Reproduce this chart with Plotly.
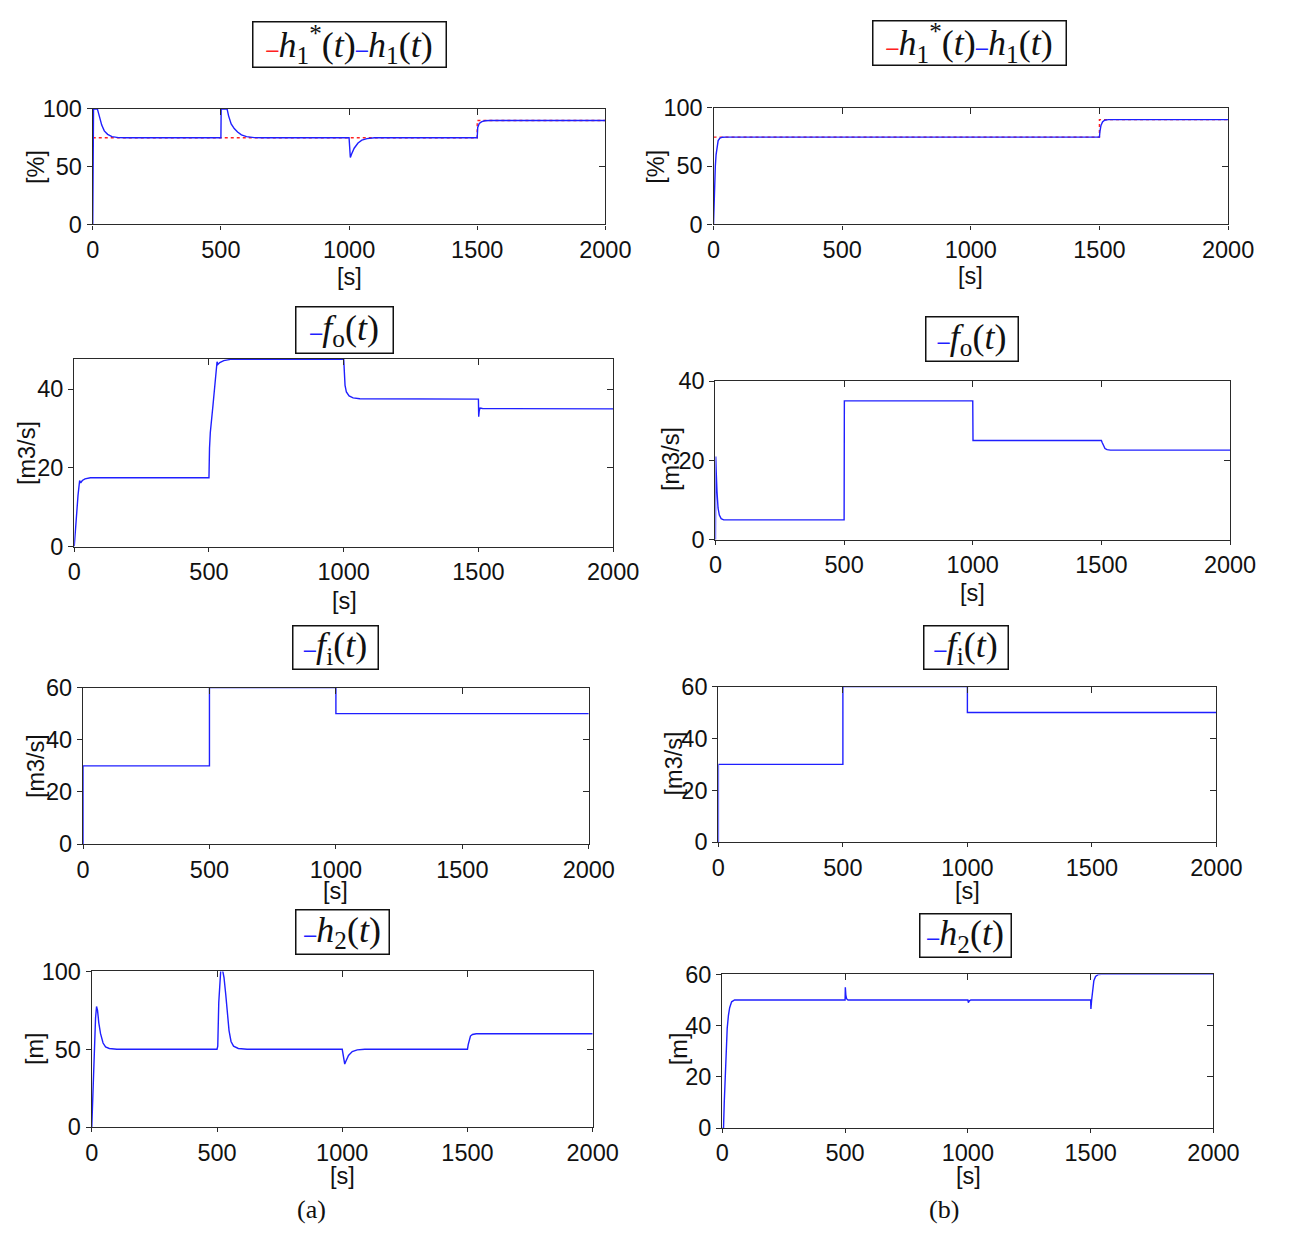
import plotly.graph_objects as go

W, H = 1295, 1238

# ------------------------------------------------------------------ data
x_ticks = [0, 500, 1000, 1500, 2000]

# reference level h1*(t) [%] (same for (a) and (b))
t_h1ref = [0, 1500, 1500, 2000]
h1ref = [75, 75, 90, 90]

# (a) h1(t) [%]
t_h1_a = [0, 3, 18, 22, 28, 35, 45, 58, 75, 100, 130, 500, 501, 524, 530, 540, 552, 565, 580, 600, 630, 660,
          1000, 1002, 1005, 1010, 1020, 1035, 1050, 1070, 1100, 1500, 1502, 1508, 1518, 1530, 1550, 2000]
h1_a = [0, 100, 100, 96, 91, 86, 81, 78, 76, 75.2, 75, 75, 100, 100, 94, 87, 83, 80, 77.5, 76, 75.2, 75,
        75, 66, 58, 61, 66, 70.5, 73, 74.3, 75, 75, 84, 87.5, 89, 89.8, 90, 90]

# (b) h1(t) [%]
t_h1_b = [0, 2, 4, 7, 10, 14, 18, 25, 35, 50, 1500, 1502, 1506, 1512, 1520, 1535, 2000]
h1_b = [0, 20, 38, 50, 60, 68, 72, 74.2, 74.9, 75, 75, 80, 85, 88, 89.5, 90, 90]

# (a) fo(t) [m3/s]
t_fo_a = [0, 3, 8, 14, 20, 24, 30, 40, 60, 500, 502, 505, 515, 525, 530, 533, 540, 555, 580, 1000,
          1002, 1005, 1010, 1020, 1035, 1060, 1500, 1501, 1503, 1506, 1515, 2000]
fo_a = [0, 3, 8, 13, 16.8, 16.2, 16.8, 17.2, 17.5, 17.5, 25, 29, 36, 43, 47, 46.3, 46.8, 47.3, 47.6, 47.7,
        44, 41, 39.3, 38.3, 37.8, 37.6, 37.5, 33, 34.5, 35.2, 35.1, 35]

# (b) fo(t) [m3/s]
t_fo_b = [0, 1, 3, 6, 10, 15, 22, 32, 500, 501, 1000, 1001, 1500, 1503, 1508, 1514, 1522, 1535, 2000]
fo_b = [0, 21, 17, 12, 8, 6.2, 5.3, 5, 5, 35, 35, 25, 25, 24.5, 23.6, 23, 22.7, 22.6, 22.6]

# fi(t) [m3/s] (same input for (a) and (b))
t_fi = [0, 0, 500, 500, 1000, 1000, 2000]
fi = [0, 30, 30, 60, 60, 50, 50]

# (a) h2(t) [m]
t_h2_a = [0, 5, 10, 15, 19, 23, 28, 35, 45, 55, 70, 100, 500, 503, 507, 511, 515, 522, 528, 535, 541, 548,
          556, 566, 585, 620, 1000, 1004, 1010, 1015, 1025, 1040, 1060, 1090, 1500, 1503, 1507, 1512, 1520,
          1535, 2000]
h2_a = [0, 25, 50, 70, 77.5, 75, 67, 60, 54, 51.5, 50.5, 50, 50, 52, 80, 97, 101, 101, 96, 85, 72, 62,
        55, 52, 50.5, 50, 50, 45, 40.5, 42.5, 46, 48.5, 49.6, 50, 50, 53, 56.5, 58.5, 59.5, 60, 60]

# (b) h2(t) [m]
t_h2_b = [0, 5, 8, 12, 16, 20, 25, 30, 38, 50, 500, 501, 503, 506, 512, 1000, 1002, 1006, 1012, 1500,
          1501, 1504, 1508, 1513, 1520, 1530, 1545, 2000]
h2_b = [0, 0, 10, 22, 32, 39, 44, 47, 49.3, 50, 50, 55, 52, 50.5, 50, 50, 49, 49.7, 50, 50,
        46.5, 50, 54.5, 57.5, 59.2, 59.9, 60, 60]

# ------------------------------------------------------------------ layout helpers
BLUE = "#1f1fff"
RED = "#ff2020"
AX = "#2a2a2a"
TICKFONT = dict(family="Liberation Sans, Arial", size=23.5, color="#111")
TITLEFONT = dict(family="Liberation Sans, Arial", size=23.5, color="#111")
SERIF = "Liberation Serif, Times New Roman, serif"

def px(x):
    return x / W

def py(y):
    return 1 - y / H

SR = "<span style='color:%s;font-family:Liberation Sans;font-size:22px'>–</span>"

H1LEG = (SR % RED) + "<i>h</i><sub>1</sub><sup>*</sup>(<i>t</i>)" + (SR % BLUE) + "<i>h</i><sub>1</sub>(<i>t</i>)"

panels = [
    dict(box=(88, 614, 98, 216), yr=[0, 100], yt=[0, 50, 100],
         series=[(t_h1ref, h1ref, RED, "dot"), (t_h1_a, h1_a, BLUE, "solid")],
         leg=H1LEG, legbox=(253, 449, 8, 56), ytitle="[%]", ytpos=(29, 157), xtpos=(351, 270)),
    dict(box=(725, 1253, 97, 216), yr=[0, 100], yt=[0, 50, 100],
         series=[(t_h1ref, h1ref, RED, "dot"), (t_h1_b, h1_b, BLUE, "solid")],
         leg=H1LEG, legbox=(890, 1086, 7, 54), ytitle="[%]", ytpos=(666, 157), xtpos=(989, 269)),
    dict(box=(69, 622, 353, 545), yr=[0, 47.8], yt=[0, 20, 40],
         series=[(t_fo_a, fo_a, BLUE, "solid")],
         leg=(SR % BLUE) + "<i>f</i><sub>o</sub>(<i>t</i>)",
         legbox=(296, 396, 299, 348), ytitle="[m3/s]", ytpos=(20, 449), xtpos=(346, 601)),
    dict(box=(727, 1255, 376, 538), yr=[0, 40], yt=[0, 20, 40],
         series=[(t_fo_b, fo_b, BLUE, "solid")],
         leg=(SR % BLUE) + "<i>f</i><sub>o</sub>(<i>t</i>)",
         legbox=(943, 1038, 310, 357), ytitle="[m3/s]", ytpos=(682, 456), xtpos=(991, 592)),
    dict(box=(78, 597, 689, 849), yr=[0, 60], yt=[0, 20, 40, 60],
         series=[(t_fi, fi, BLUE, "solid")],
         leg=(SR % BLUE) + "<i>f</i><sub>i</sub>(<i>t</i>)",
         legbox=(293, 381, 625, 671), ytitle="[m3/s]", ytpos=(30, 769), xtpos=(337, 897)),
    dict(box=(730, 1241, 688, 847), yr=[0, 60], yt=[0, 20, 40, 60],
         series=[(t_fi, fi, BLUE, "solid")],
         leg=(SR % BLUE) + "<i>f</i><sub>i</sub>(<i>t</i>)",
         legbox=(941, 1028, 625, 671), ytitle="[m3/s]", ytpos=(684, 767), xtpos=(986, 897)),
    dict(box=(87, 601, 979, 1138), yr=[0, 100], yt=[0, 50, 100],
         series=[(t_h2_a, h2_a, BLUE, "solid")],
         leg=(SR % BLUE) + "<i>h</i><sub>2</sub>(<i>t</i>)",
         legbox=(296, 392, 915, 962), ytitle="[m]", ytpos=(29, 1058), xtpos=(344, 1188)),
    dict(box=(734, 1238, 982, 1139), yr=[0, 60], yt=[0, 20, 40, 60],
         series=[(t_h2_b, h2_b, BLUE, "solid")],
         leg=(SR % BLUE) + "<i>h</i><sub>2</sub>(<i>t</i>)",
         legbox=(937, 1031, 919, 965), ytitle="[m]", ytpos=(689, 1058), xtpos=(987, 1188)),
]

fig = go.Figure()
layout = dict(width=W, height=H, margin=dict(l=0, r=0, t=0, b=0, pad=0),
              paper_bgcolor="white", plot_bgcolor="white", showlegend=False)
annotations = []
n = len(panels)

for i, p in enumerate(panels):
    k = i + 1
    ko = k + n  # overlay axes (top / right mirrored inside ticks)
    l, r, t, b = p["box"]
    xd = [px(l), px(r)]
    yd = [py(b), py(t)]
    xs = "x" if k == 1 else "x%d" % k
    ys = "y" if k == 1 else "y%d" % k
    for (tt, vv, col, dash) in p["series"]:
        fig.add_trace(go.Scatter(x=tt, y=vv, mode="lines", xaxis=xs, yaxis=ys,
                                 line=dict(color=col, width=1.4, dash=dash),
                                 hoverinfo="skip", cliponaxis=True))
    fig.add_trace(go.Scatter(x=[0], y=[p["yr"][0]], mode="markers", marker=dict(opacity=0),
                             xaxis="x%d" % ko, yaxis="y%d" % ko, hoverinfo="skip"))
    layout["xaxis%d" % k] = dict(domain=xd, anchor=ys, range=[0, 2000], tickvals=x_ticks,
                                 ticks="outside", ticklen=4, tickcolor=AX, showline=True,
                                 linecolor=AX, linewidth=1.4, mirror=True, showgrid=False,
                                 zeroline=False, tickfont=TICKFONT, fixedrange=True)
    layout["yaxis%d" % k] = dict(domain=yd, anchor=xs, range=p["yr"], tickvals=p["yt"],
                                 ticks="outside", ticklen=5, tickcolor=AX, showline=True,
                                 linecolor=AX, linewidth=1.4, mirror=True, showgrid=False,
                                 zeroline=False, tickfont=TICKFONT, fixedrange=True)
    layout["xaxis%d" % ko] = dict(overlaying=xs, anchor="y%d" % ko, side="top", range=[0, 2000],
                                  tickvals=x_ticks, ticks="inside", ticklen=6, tickcolor=AX,
                                  showticklabels=False, showgrid=False, zeroline=False,
                                  showline=False, fixedrange=True)
    layout["yaxis%d" % ko] = dict(overlaying=ys, anchor="x%d" % ko, side="right", range=p["yr"],
                                  tickvals=p["yt"], ticks="inside", ticklen=6, tickcolor=AX,
                                  showticklabels=False, showgrid=False, zeroline=False,
                                  showline=False, fixedrange=True)
    bl, br, bt, bb = p["legbox"]
    annotations.append(dict(x=px((bl + br) / 2), y=py((bt + bb) / 2), xref="paper", yref="paper",
                            xanchor="center", yanchor="middle", text=p["leg"], showarrow=False,
                            width=br - bl - 4, height=bb - bt - 4, bordercolor="#111",
                            borderwidth=1.5, borderpad=0, bgcolor="white",
                            font=dict(family=SERIF, size=36, color="#111")))
    annotations.append(dict(x=px(p["ytpos"][0]), y=py(p["ytpos"][1]), xref="paper", yref="paper",
                            xanchor="center", yanchor="middle", text=p["ytitle"], textangle=-90,
                            showarrow=False, font=TITLEFONT))
    annotations.append(dict(x=px(p["xtpos"][0]), y=py(p["xtpos"][1]), xref="paper", yref="paper",
                            xanchor="center", yanchor="middle", text="[s]", showarrow=False,
                            font=TITLEFONT))

for lab, xc in (("(a)", 312), ("(b)", 962)):
    annotations.append(dict(x=px(xc), y=py(1222), xref="paper", yref="paper", xanchor="center",
                            yanchor="middle", text=lab, showarrow=False,
                            font=dict(family=SERIF, size=26, color="#111")))

layout["annotations"] = annotations
fig.update_layout(**layout)
# remove the default page margin so the 1295x1238 figure fills the window exactly
fig.write_html("out.html", config={"displayModeBar": False},
               post_script="document.body.style.margin='0';document.body.style.overflow='hidden';")
